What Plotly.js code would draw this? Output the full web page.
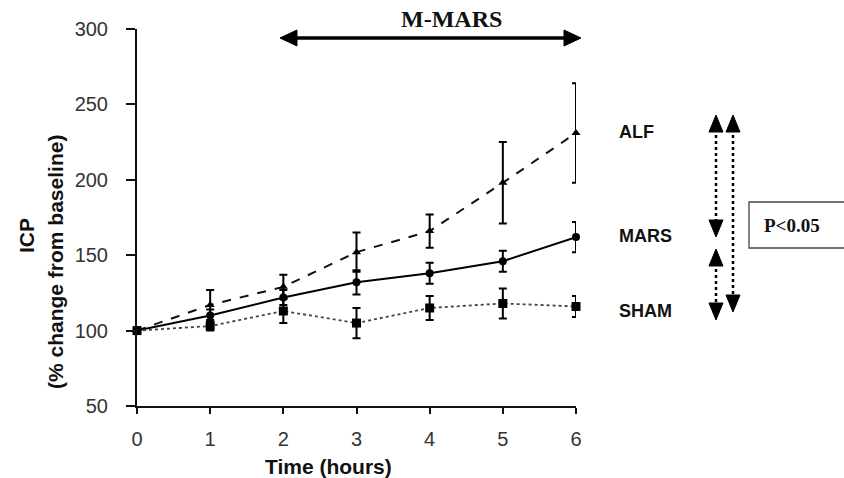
<!DOCTYPE html>
<html>
<head>
<meta charset="utf-8">
<script src="https://cdn.plot.ly/plotly-3.0.1.min.js"></script>
<style>html,body{margin:0;padding:0;background:#fff;}#chart{width:844px;height:478px;}</style>
</head>
<body>
<div id="chart"></div>
<script>
// ---- data ----
const time = [0, 1, 2, 3, 4, 5, 6];
const alf = [100, 117, 129, 152, 166, 198, 231];
const alfErr = [0, 10, 8, 13, 11, 27, 33];
const mars = [100, 110, 122, 132, 138, 146, 162];
const marsErr = [0, 4, 5, 8, 7, 7, 10];
const sham = [100, 103, 113, 105, 115, 118, 116];
const shamErr = [0, 3, 8, 10, 8, 10, 7];
const yTicks = [50, 100, 150, 200, 250, 300];
const xTicks = [0, 1, 2, 3, 4, 5, 6];
const groupLabels = ['ALF', 'MARS', 'SHAM'];

// ---- layout geometry ----
const W = 844, H = 478;
const M = {l: 137, r: 268, t: 29, b: 72};
const PW = W - M.l - M.r, PH = H - M.t - M.b;
const px = X => (X - M.l) / PW;           // pixel -> paper x
const py = Y => (H - M.b - Y) / PH;       // pixel -> paper y

const sans = 'Liberation Sans, Arial, sans-serif';
const serif = 'Liberation Serif, Times New Roman, serif';

function errBar(arr) {
  return {type: 'data', array: arr, visible: true, color: '#000', thickness: 2, width: 4};
}

const traces = [
  {x: time, y: alf, name: 'ALF', mode: 'lines+markers', cliponaxis: false,
   line: {color: '#111', width: 2, dash: 'dash'},
   marker: {symbol: 'triangle-up', size: 8, color: '#000'},
   error_y: errBar(alfErr)},
  {x: time, y: mars, name: 'MARS', mode: 'lines+markers', cliponaxis: false,
   line: {color: '#000', width: 2},
   marker: {symbol: 'circle', size: 8, color: '#000'},
   error_y: errBar(marsErr)},
  {x: time, y: sham, name: 'SHAM', mode: 'lines+markers', cliponaxis: false,
   line: {color: '#444', width: 1.8, dash: 'dot'},
   marker: {symbol: 'square', size: 9, color: '#000'},
   error_y: errBar(shamErr)}
];

// ---- decorations ----
function tri(xTip, yTip, dir, len, half) {
  let pts;
  if (dir === 'up') pts = [[xTip, yTip], [xTip - half, yTip + len], [xTip + half, yTip + len]];
  else if (dir === 'down') pts = [[xTip, yTip], [xTip - half, yTip - len], [xTip + half, yTip - len]];
  else if (dir === 'left') pts = [[xTip, yTip], [xTip + len, yTip - half], [xTip + len, yTip + half]];
  else pts = [[xTip, yTip], [xTip - len, yTip - half], [xTip - len, yTip + half]];
  const d = 'M ' + pts.map(p => px(p[0]).toFixed(5) + ',' + py(p[1]).toFixed(5)).join(' L ') + ' Z';
  return {type: 'path', xref: 'paper', yref: 'paper', path: d,
          fillcolor: '#000', line: {color: '#000', width: 1}};
}
function seg(x0, y0, x1, y1, width, dash) {
  return {type: 'line', xref: 'paper', yref: 'paper',
          x0: px(x0), y0: py(y0), x1: px(x1), y1: py(y1),
          line: {color: '#000', width: width, dash: dash || 'solid'}};
}
function vArrow(x, yTop, yBot) {
  return [
    seg(x, yTop + 14, x, yBot - 14, 2.5, 'dot'),
    tri(x, yTop, 'up', 17, 7),
    tri(x, yBot, 'down', 17, 7)
  ];
}

const shapes = [
  seg(292, 38, 568, 38, 3.5),
  tri(280, 38, 'left', 17, 8),
  tri(581, 38, 'right', 17, 8),
  ...vArrow(716, 115, 237),
  ...vArrow(733, 115, 312),
  ...vArrow(716, 249, 320),
  {type: 'rect', xref: 'paper', yref: 'paper',
   x0: px(749), x1: px(848), y0: py(248), y1: py(202),
   line: {color: '#444', width: 1.3}, fillcolor: 'rgba(0,0,0,0)'}
];

function note(text, X, Y, font, opts) {
  return Object.assign({text: text, xref: 'paper', yref: 'paper', x: px(X), y: py(Y),
    showarrow: false, xanchor: 'center', yanchor: 'middle', font: font}, opts || {});
}

const labelY = [132, 236, 311];
const annotations = [
  note('<b>M-MARS</b>', 451, 19, {family: serif, size: 24, color: '#111'}),
  note('<b>P&lt;0.05</b>', 762, 225, {family: serif, size: 19, color: '#111'}, {xanchor: 'left'}),
  ...groupLabels.map((g, i) => note('<b>' + g + '</b>', 617, labelY[i], {family: sans, size: 18, color: '#111'}, {xanchor: 'left'})),
  note('<b>Time (hours)</b>', 328, 466, {family: sans, size: 21, color: '#111'}),
  note('<b>ICP</b>', 26, 235, {family: sans, size: 21, color: '#111'}, {textangle: -90}),
  note('<b>(% change from baseline)</b>', 55, 262, {family: sans, size: 21, color: '#111'}, {textangle: -90})
];

const layout = {
  width: W, height: H,
  margin: M,
  paper_bgcolor: '#fff', plot_bgcolor: '#fff',
  showlegend: false,
  font: {family: sans, size: 18, color: '#222'},
  xaxis: {range: [0, 6], tickvals: xTicks, ticktext: xTicks.map(String),
          showgrid: false, zeroline: false, showline: true, linecolor: '#111', linewidth: 2,
          ticks: 'outside', ticklen: 6, tickwidth: 2, tickcolor: '#111', ticklabelstandoff: 8,
          tickfont: {family: sans, size: 20, color: '#333'}, fixedrange: true},
  yaxis: {range: [50, 300], tickvals: yTicks, ticktext: yTicks.map(String),
          showgrid: false, zeroline: false, showline: true, linecolor: '#111', linewidth: 2,
          ticks: 'outside', ticklen: 9, tickwidth: 2, tickcolor: '#111', ticklabelstandoff: 14,
          tickfont: {family: sans, size: 20, color: '#333'}, fixedrange: true},
  shapes: shapes,
  annotations: annotations
};

Plotly.newPlot('chart', traces, layout, {displayModeBar: false, staticPlot: true});
</script>
</body>
</html>
